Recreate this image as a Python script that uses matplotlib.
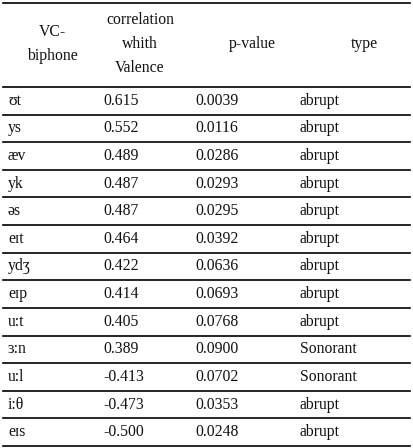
import matplotlib.pyplot as plt
from matplotlib.lines import Line2D

biphones = ['ʊt', 'ys', 'æv', 'yk', 'əs', 'eɪt', 'ydʒ', 'eɪp', 'u:t', 'ɜ:n', 'u:l', 'i:θ', 'eɪs']
correlation = ['0.615', '0.552', '0.489', '0.487', '0.487', '0.464', '0.422', '0.414', '0.405',
               '0.389', '-0.413', '-0.473', '-0.500']
p_values = ['0.0039', '0.0116', '0.0286', '0.0293', '0.0295', '0.0392', '0.0636', '0.0693', '0.0768',
            '0.0900', '0.0702', '0.0353', '0.0248']
types = ['abrupt'] * 9 + ['Sonorant', 'Sonorant', 'abrupt', 'abrupt']

W, H = 413, 448
fig = plt.figure(figsize=(W / 100, H / 100), dpi=100)
ax = fig.add_axes([0, 0, 1, 1])
ax.set_xlim(0, W)
ax.set_ylim(H, 0)
ax.axis('off')

font = dict(family=['Liberation Serif', 'DejaVu Serif'], fontsize=11.3, color='#111111')

top, head_bottom, bottom = 3, 87, 446
row_h = (bottom - head_bottom) / len(biphones)


def hline(y, lw=1.0):
    ax.add_line(Line2D([3, 410], [y, y], color='black', lw=lw))


hline(top, 1.2)
hline(head_bottom, 1.2)

headers = [(52, 'VC-\nbiphone'), (140, 'correlation\nwhith\nValence'), (252, 'p-value'), (364, 'type')]
for x, text in headers:
    ax.text(x, 44, text, ha='center', va='center', linespacing=1.65, **font)

cols = [8, 103, 195, 300]
for i, row in enumerate(zip(biphones, correlation, p_values, types)):
    y0 = head_bottom + i * row_h
    for x, val in zip(cols, row):
        ax.text(x, y0 + row_h / 2, val, ha='left', va='center', **font)
    hline(y0 + row_h, 1.2)

fig.savefig('out.png', dpi=100)
